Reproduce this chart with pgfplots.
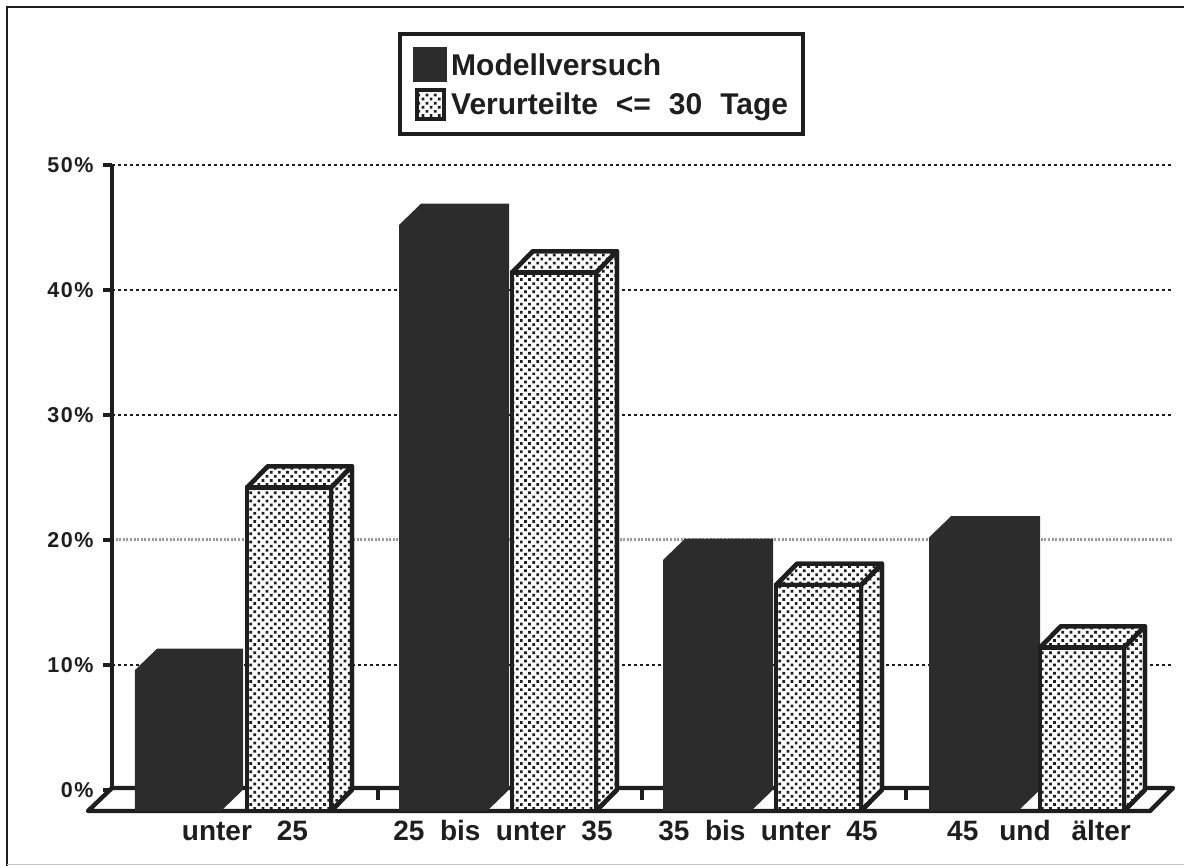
\documentclass[border=0pt]{standalone}
\usepackage{pgfplots}
\usepackage{fontspec}
\setmainfont{Liberation Sans}
\pgfplotsset{compat=1.18}
\usetikzlibrary{patterns.meta}
\definecolor{ink}{HTML}{1E1E1E}
\definecolor{darkbar}{HTML}{2C2C2C}
\tikzset{halftone/.style={pattern={Dots[distance=5.8pt,radius=1.9pt,angle=45,xshift=0.5pt]},pattern color=ink},
 pbar/.style={draw=ink,line width=4.4pt,line join=round,preaction={fill=white},halftone},
 dbar/.style={fill=darkbar,draw=none}}
\begin{document}
\begin{tikzpicture}[x=1pt,y=1pt]
\useasboundingbox (0,0) rectangle (1184,866);
\draw[ink,line width=1.8pt] (7,0) -- (7,859) -- (1184,859);
\draw[gray!45,line width=1pt] (7,1.5) -- (1184,1.5);
\begin{axis}[
 at={(112pt,55pt)},anchor=south west,
 scale only axis,width=1060pt,height=646pt,
 xmin=112,xmax=1172,ymin=-1.68,ymax=50,
 clip=false,
 axis line style={draw=none},
 xtick={245,503,768,1039},
 xticklabels={unter\hspace{25pt}25,25\hspace{15.5pt}bis\hspace{15.5pt}unter\hspace{15.5pt}35,35\hspace{15.5pt}bis\hspace{15.5pt}unter\hspace{15.5pt}45,45\hspace{21pt}und\hspace{21pt}älter},
 x tick label style={font=\fontsize{28}{32}\bfseries,text=ink,yshift=3pt},
 x tick style={draw=none},
 ytick={0,10,20,30,40,50},
 yticklabels={0\%,10\%,20\%,30\%,40\%,50\%},
 y tick label style={font=\fontsize{21.5}{24}\bfseries\addfontfeatures{LetterSpace=7},text=ink,xshift=-6pt},
 y tick style={draw=ink,line width=3.5pt},
 tick align=outside,major tick length=9pt,
 tickwidth=9pt,
 ytick pos=left,xtick pos=bottom,
 legend style={at={(0.27,1.206)},anchor=north west,draw=ink,line width=4pt,
   font=\fontsize{30}{34}\bfseries,text=ink,inner sep=13pt,row sep=6pt,
   legend cell align=left},
]
% dotted gridlines
\foreach \v in {10,30,40,50}{
 \addplot[forget plot,ink,line width=2.8pt,dash pattern=on 2.8pt off 3.2pt] coordinates {(112,\v)(1172,\v)};
}
\addplot[forget plot,ink!45,line width=3pt,dash pattern=on 2pt off 1.6pt] coordinates {(112,20)(1172,20)};
% value axis
\addplot[forget plot,ink,line width=3.5pt] coordinates {(112,0)(112,50)};
% floor
\addplot[forget plot,draw=ink,fill=white,line width=4.4pt,line join=round] coordinates {(88,-1.68)(112,0.16)(1173,0.16)(1150,-1.68)} --cycle;
\addplot[forget plot,ink,line width=3.5pt] coordinates {(378,0.16)(378,-0.8)};
\addplot[forget plot,ink,line width=3.5pt] coordinates {(642,0.16)(642,-0.8)};
\addplot[forget plot,ink,line width=3.5pt] coordinates {(906,0.16)(906,-0.8)};
% Modellversuch: 9.6, 45.2, 18.4, 20.2
\addplot[forget plot,dbar] coordinates {(135,-1.68)(135,9.6)(157,11.3)(243,11.3)(243,0.02)(221,-1.68)} --cycle;
\addplot[forget plot,dbar] coordinates {(399,-1.68)(399,45.2)(421,46.9)(509,46.9)(509,0.02)(487,-1.68)} --cycle;
\addplot[forget plot,dbar] coordinates {(663,-1.68)(663,18.4)(685,20.1)(773,20.1)(773,0.02)(751,-1.68)} --cycle;
\addplot[forget plot,dbar] coordinates {(929,-1.68)(929,20.2)(951,21.9)(1040,21.9)(1040,0.02)(1018,-1.68)} --cycle;
% Verurteilte: 24.2, 41.4, 16.4, 11.4
\addplot[forget plot,pbar] coordinates {(331,-1.68)(331,24.2)(352,25.9)(352,0.02)} --cycle;
\addplot[forget plot,pbar] coordinates {(247,24.2)(331,24.2)(352,25.9)(268,25.9)} --cycle;
\addplot[forget plot,pbar] coordinates {(247,-1.68)(247,24.2)(331,24.2)(331,-1.68)} --cycle;
\addplot[forget plot,pbar] coordinates {(596,-1.68)(596,41.4)(617,43.1)(617,0.02)} --cycle;
\addplot[forget plot,pbar] coordinates {(512,41.4)(596,41.4)(617,43.1)(533,43.1)} --cycle;
\addplot[forget plot,pbar] coordinates {(512,-1.68)(512,41.4)(596,41.4)(596,-1.68)} --cycle;
\addplot[forget plot,pbar] coordinates {(861,-1.68)(861,16.4)(882,18.1)(882,0.02)} --cycle;
\addplot[forget plot,pbar] coordinates {(776,16.4)(861,16.4)(882,18.1)(797,18.1)} --cycle;
\addplot[forget plot,pbar] coordinates {(776,-1.68)(776,16.4)(861,16.4)(861,-1.68)} --cycle;
\addplot[forget plot,pbar] coordinates {(1124,-1.68)(1124,11.4)(1145,13.1)(1145,0.02)} --cycle;
\addplot[forget plot,pbar] coordinates {(1040,11.4)(1124,11.4)(1145,13.1)(1061,13.1)} --cycle;
\addplot[forget plot,pbar] coordinates {(1040,-1.68)(1040,11.4)(1124,11.4)(1124,-1.68)} --cycle;
% legend
\addlegendimage{legend image code/.code={\fill[darkbar] (0pt,-15pt) rectangle (30pt,16pt);\path (32pt,0pt);}}
\addlegendentry{Modellversuch}
\addlegendimage{legend image code/.code={\draw[pbar,line width=4.4pt] (2pt,-15pt) rectangle (28.5pt,14pt);\path (32pt,0pt);}}
\addlegendentry{Verurteilte\hspace{18pt}<=\hspace{18pt}30\hspace{18pt}Tage}
\end{axis}
\end{tikzpicture}
\end{document}
